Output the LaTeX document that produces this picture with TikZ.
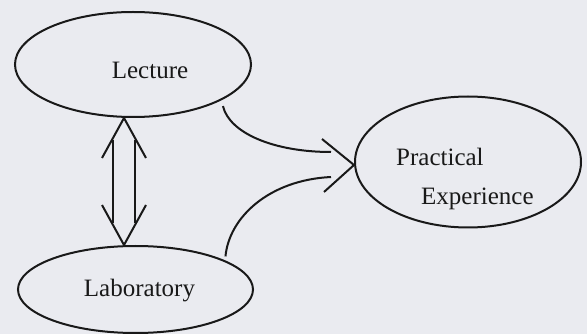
\documentclass[tikz,border=0pt]{standalone}
\usepackage{fontspec}
\setmainfont{Liberation Serif}
\usepackage{tikz}
\usetikzlibrary{shapes.geometric, arrows.meta}
\definecolor{paper}{RGB}{234,235,240}
\definecolor{ink}{RGB}{25,25,25}
\tikzstyle{bubble} = [ellipse, draw=ink, line width=2pt, inner sep=0pt]
\tikzstyle{txt} = [inner sep=0pt, text=ink, font=\fontsize{25}{39.5}\selectfont]
\tikzstyle{curve} = [draw=ink, line width=2pt]
\tikzstyle{barb} = [draw=ink, line width=2pt, line join=miter]
\tikzstyle{shaft} = [draw=ink, line width=2pt, double=paper, double distance=20pt, shorten <=22pt, shorten >=22pt]

\begin{document}
\begin{tikzpicture}[x=1pt, y=-1pt]
\fill[paper] (0,0) rectangle (587,334);

\node (lec) [bubble, minimum width=236pt, minimum height=105pt] at (133,64.5) {};
\node (lab) [bubble, minimum width=235pt, minimum height=87pt] at (135.5,289.5) {};
\node (prac) [bubble, minimum width=226pt, minimum height=131pt] at (468,162) {};

\node (lectxt) [txt] at ([shift={(17pt,-5.5pt)}]lec.center) {Lecture};
\node (labtxt) [txt] at ([shift={(4pt,-1.5pt)}]lab.center) {Laboratory};
\node (practxt) [txt, align=left, anchor=north west] at ([shift={(42pt,14.5pt)}]prac.west) {Practical\\\hspace*{25pt}Experience};

\coordinate (tip) at ([yshift=-3pt]prac.west);
\draw [curve, shorten <=6pt] (lec.-22) .. controls +(8pt,-33pt) and +(-57pt,0pt) .. ([shift={(-23pt,13pt)}]tip);
\draw [curve, shorten <=4pt] (lab.18) .. controls +(4pt,43pt) and +(-62pt,-3pt) .. ([shift={(-23pt,-12pt)}]tip);
\draw [barb] ([shift={(-32pt,26pt)}]tip) -- (tip) -- ([shift={(-30pt,-27pt)}]tip);

\coordinate (up) at ([xshift=-9pt]lec.south);
\coordinate (dn) at (up |- lab.north);
\draw [shaft] (up) -- (dn);
\draw [barb] ([shift={(-22pt,-40pt)}]up) -- (up) -- ([shift={(22pt,-40pt)}]up);
\draw [barb] ([shift={(-22pt,40pt)}]dn) -- (dn) -- ([shift={(22pt,40pt)}]dn);

\end{tikzpicture}
\end{document}
